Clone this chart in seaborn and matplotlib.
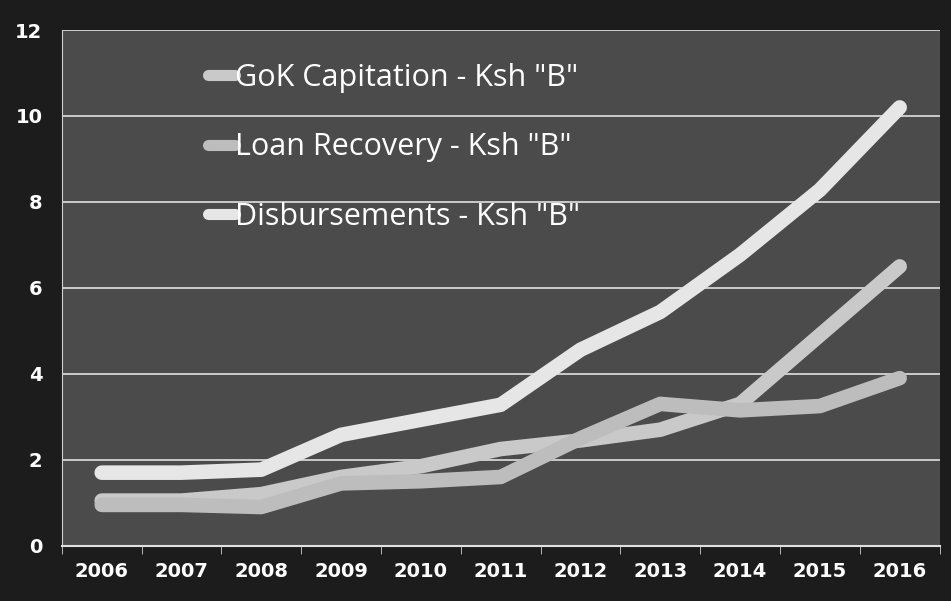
import pandas as pd
import matplotlib.pyplot as plt
import seaborn as sns

years = ['2006', '2007', '2008', '2009', '2010', '2011', '2012', '2013', '2014', '2015', '2016']
gok_capitation = [1.05, 1.05, 1.2, 1.6, 1.85, 2.25, 2.45, 2.7, 3.3, 4.9, 6.5]
loan_recovery = [0.95, 0.95, 0.9, 1.45, 1.5, 1.6, 2.5, 3.3, 3.15, 3.25, 3.9]
disbursements = [1.7, 1.7, 1.77, 2.58, 2.93, 3.28, 4.56, 5.44, 6.77, 8.28, 10.2]

names = ['GoK Capitation - Ksh "B"', 'Loan Recovery - Ksh "B"', 'Disbursements - Ksh "B"']
df = pd.DataFrame({
    'year': years * 3,
    'value': gok_capitation + loan_recovery + disbursements,
    'series': [names[0]] * 11 + [names[1]] * 11 + [names[2]] * 11,
})

sns.set_style("dark")
plt.rcParams['font.family'] = ['Open Sans', 'DejaVu Sans']

fig = plt.figure(figsize=(9.51, 6.01), dpi=100, facecolor='#1c1c1c')
ax = fig.add_axes([0.065, 0.092, 0.923, 0.858])
ax.set_facecolor('#4b4b4b')

palette = {names[0]: '#c9c9c9', names[1]: '#bdbdbd', names[2]: '#e6e6e6'}
sns.lineplot(data=df, x='year', y='value', hue='series', palette=palette,
             linewidth=10.5, solid_capstyle='round', sort=False, ax=ax)

ax.set_ylim(0, 12)
ax.set_xlim(-0.42, 10.4)
ax.set_yticks(range(0, 13, 2))
ax.grid(axis='y', color='#e0e0e0', linewidth=1.2)
ax.grid(axis='x', visible=False)
ax.set_axisbelow(True)
for s in ['top', 'right']:
    ax.spines[s].set_visible(False)
ax.spines['left'].set_color('#d0d0d0')
ax.spines['bottom'].set_color('#e0e0e0')
ax.spines['bottom'].set_linewidth(1.5)
ax.set_xlabel('')
ax.set_ylabel('')

ax.set_xticks([i + 0.5 for i in range(-1, 11)], minor=True)
ax.tick_params(axis='x', which='minor', length=6, color='#d0d0d0', bottom=True)
ax.tick_params(axis='x', which='major', length=0, pad=12, labelsize=14, labelcolor='white')
ax.tick_params(axis='y', length=0, pad=14, labelsize=14, labelcolor='white')
for lab in ax.get_xticklabels() + ax.get_yticklabels():
    lab.set_fontweight('bold')
    lab.set_family(['DejaVu Sans'])

leg = ax.legend(loc='upper left', bbox_to_anchor=(0.135, 0.99), frameon=False,
                fontsize=22, handlelength=0.9, handletextpad=0.0, labelspacing=1.3,
                labelcolor='white')
for line in leg.get_lines():
    line.set_linewidth(8)

plt.savefig('out.png', dpi=100, facecolor=fig.get_facecolor())
